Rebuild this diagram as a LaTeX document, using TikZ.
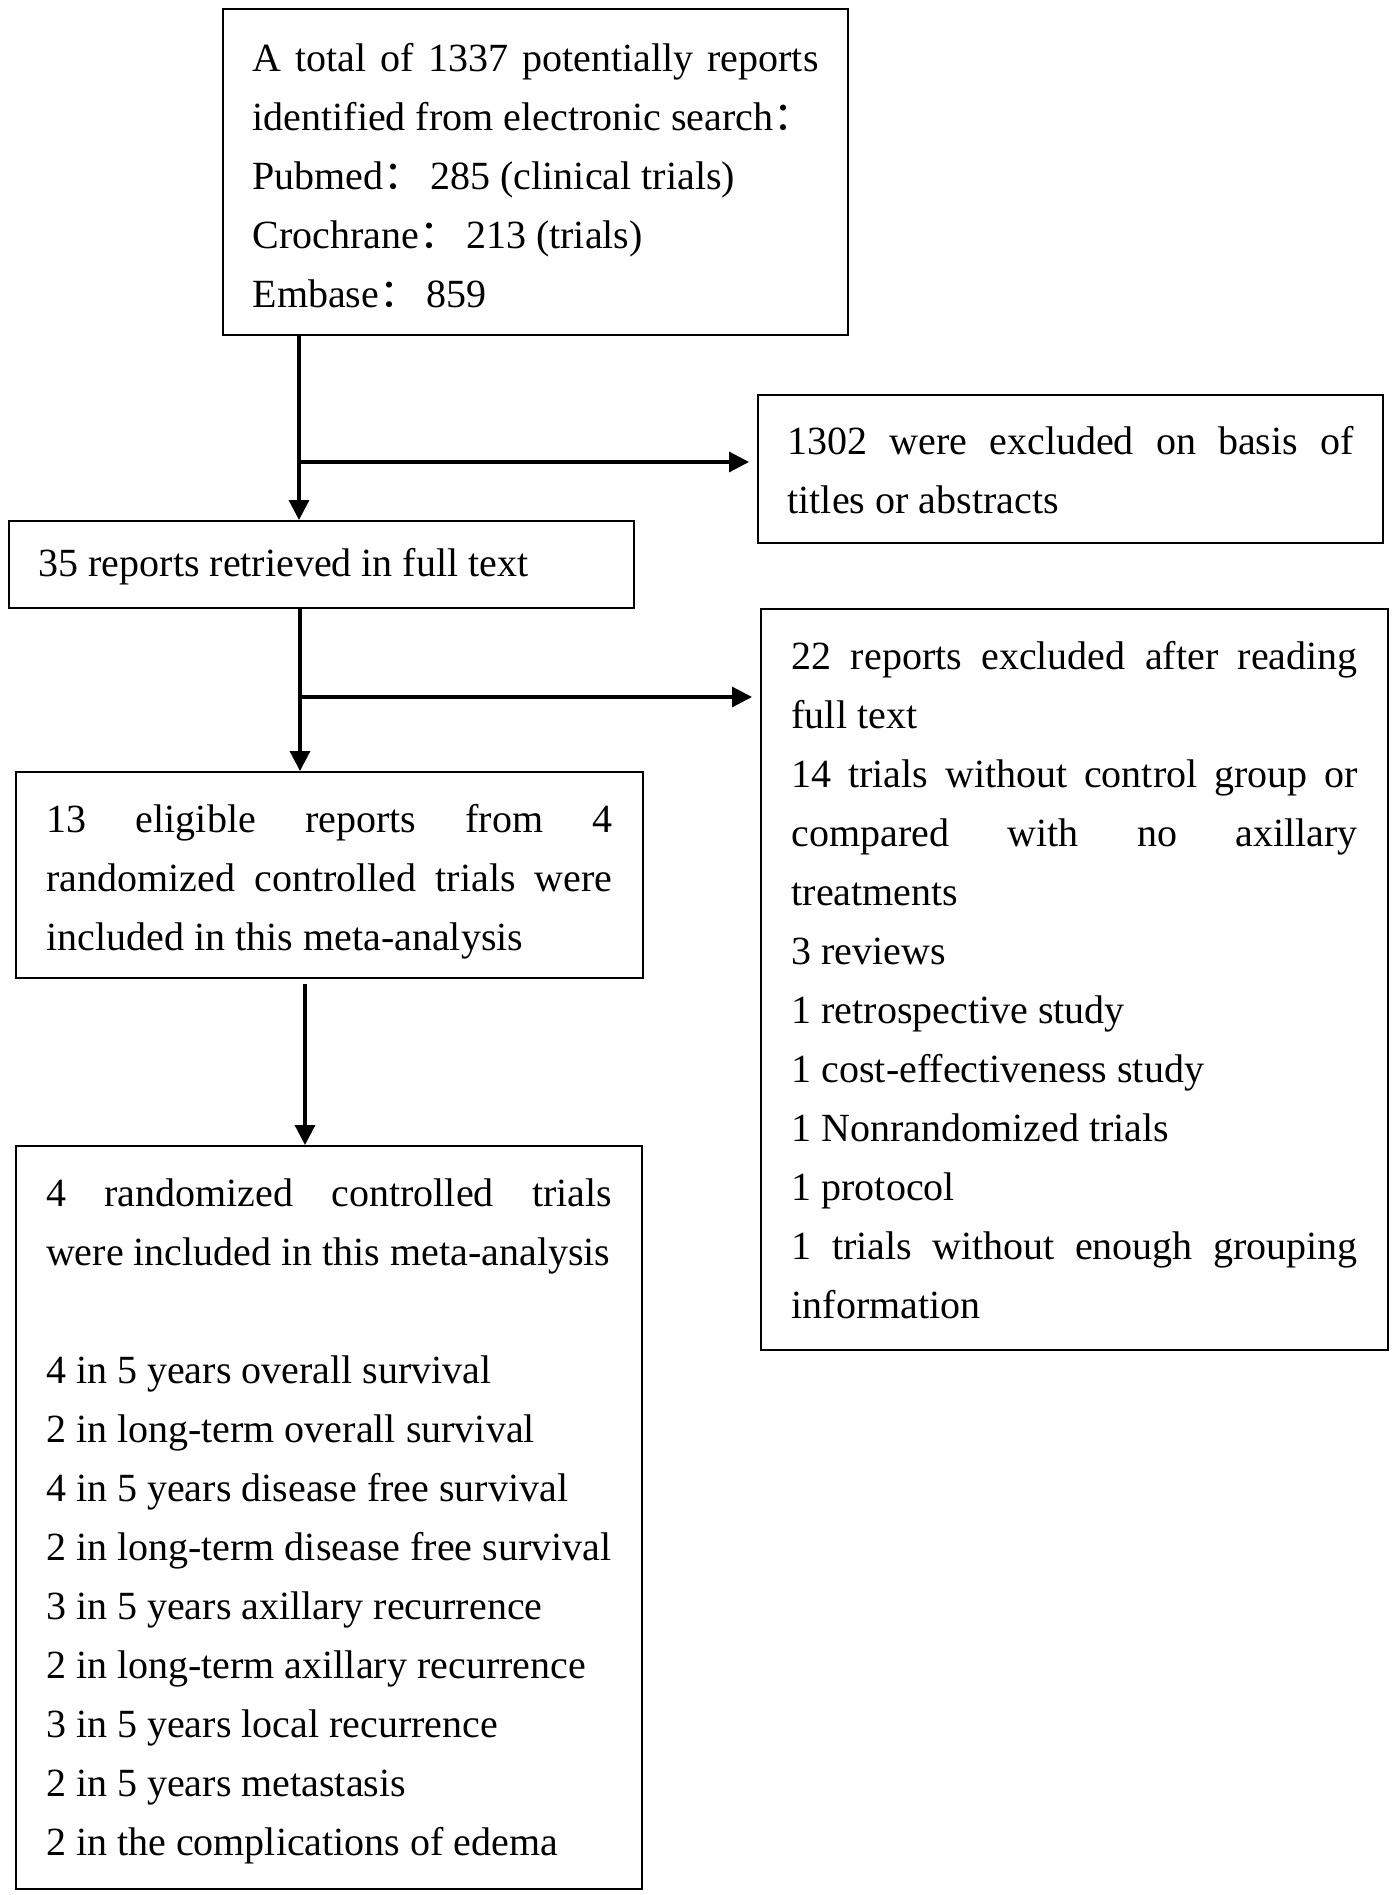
\documentclass[tikz,border=0pt]{standalone}
\usepackage{fontspec}
\setmainfont{Liberation Serif}
\newfontfamily\cjk{Noto Sans CJK SC}
\usetikzlibrary{arrows.meta}
\newcommand{\jline}[1]{\makebox[\hsize][s]{#1}}
\newcommand{\fcolon}{{\cjk ：}\hspace{7pt}}
\newcommand{\boxfont}{\fontsize{40}{59}\selectfont}
\newcommand{\topstrut}[1]{\noindent\spaceskip=10pt plus 40pt minus 3pt\relax
  \xspaceskip=0pt\relax\hyphenpenalty=10000\relax\rule{0pt}{#1}}
\begin{document}
\begin{tikzpicture}[x=1pt,y=-1pt,
  box/.style={draw, line width=2.2pt, anchor=north west, inner sep=0pt,
    text width=566pt, font=\boxfont},
  arr/.style={line width=3.2pt, -{Triangle[length=20pt,width=20pt]}},
]
\useasboundingbox[fill=white] (0,0) rectangle (1395,1895);

\node[box, minimum width=625pt, minimum height=326pt] (b1) at (222,8)
  {\topstrut{36pt}\jline{A total of 1337 potentially reports}\\
   \mbox{identified from electronic search{\cjk ：}}\\
   \mbox{Pubmed\fcolon 285 (clinical trials)}\\
   \mbox{Crochrane\fcolon 213 (trials)}\\
   \mbox{Embase\fcolon 859}};

\node[box, minimum width=625pt, minimum height=148pt] (b2) at (757,394)
  {\topstrut{30pt}\jline{1302 were excluded on basis of}\\
   \mbox{titles or abstracts}};

\node[box, minimum width=625pt, minimum height=87pt] (b3) at (8,520)
  {\topstrut{32pt}\mbox{35 reports retrieved in full text}};

\node[box, minimum width=627pt, minimum height=741pt] (b4) at (760,608)
  {\topstrut{29pt}\jline{22 reports excluded after reading}\\
   \mbox{full text}\\
   \jline{14 trials without control group or}\\
   \jline{compared with no axillary}\\
   \mbox{treatments}\\
   \mbox{3 reviews}\\
   \mbox{1 retrospective study}\\
   \mbox{1 cost-effectiveness study}\\
   \mbox{1 Nonrandomized trials}\\
   \mbox{1 protocol}\\
   \jline{1 trials without enough grouping}\\
   \mbox{information}};

\node[box, minimum width=627pt, minimum height=206pt] (b5) at (15,771)
  {\topstrut{42pt}\jline{13 eligible reports from 4}\\
   \jline{randomized controlled trials were}\\
   \mbox{included in this meta-analysis}};

\node[box, minimum width=626pt, minimum height=743pt] (b6) at (15,1145)
  {\topstrut{36pt}\jline{4 randomized controlled trials}\\
   \mbox{were included in this meta-analysis}\\[59pt]
   \mbox{4 in 5 years overall survival}\\
   \mbox{2 in long-term overall survival}\\
   \mbox{4 in 5 years disease free survival}\\
   \mbox{2 in long-term disease free survival}\\
   \mbox{3 in 5 years axillary recurrence}\\
   \mbox{2 in long-term axillary recurrence}\\
   \mbox{3 in 5 years local recurrence}\\
   \mbox{2 in 5 years metastasis}\\
   \mbox{2 in the complications of edema}};

\coordinate (t1) at (299,462);
\coordinate (t2) at (300,697);
\coordinate (t3) at (305,1000);

\draw[arr] (b1.south -| t1) -- (b3.north -| t1);
\draw[arr, shorten >=8pt] (t1) -- (b2.west |- t1);
\draw[arr] (b3.south -| t2) -- (b5.north -| t2);
\draw[arr, shorten >=8pt] (t2) -- (b4.west |- t2);
\draw[arr, shorten <=5pt] (b5.south -| t3) -- (b6.north -| t3);
\end{tikzpicture}
\end{document}
